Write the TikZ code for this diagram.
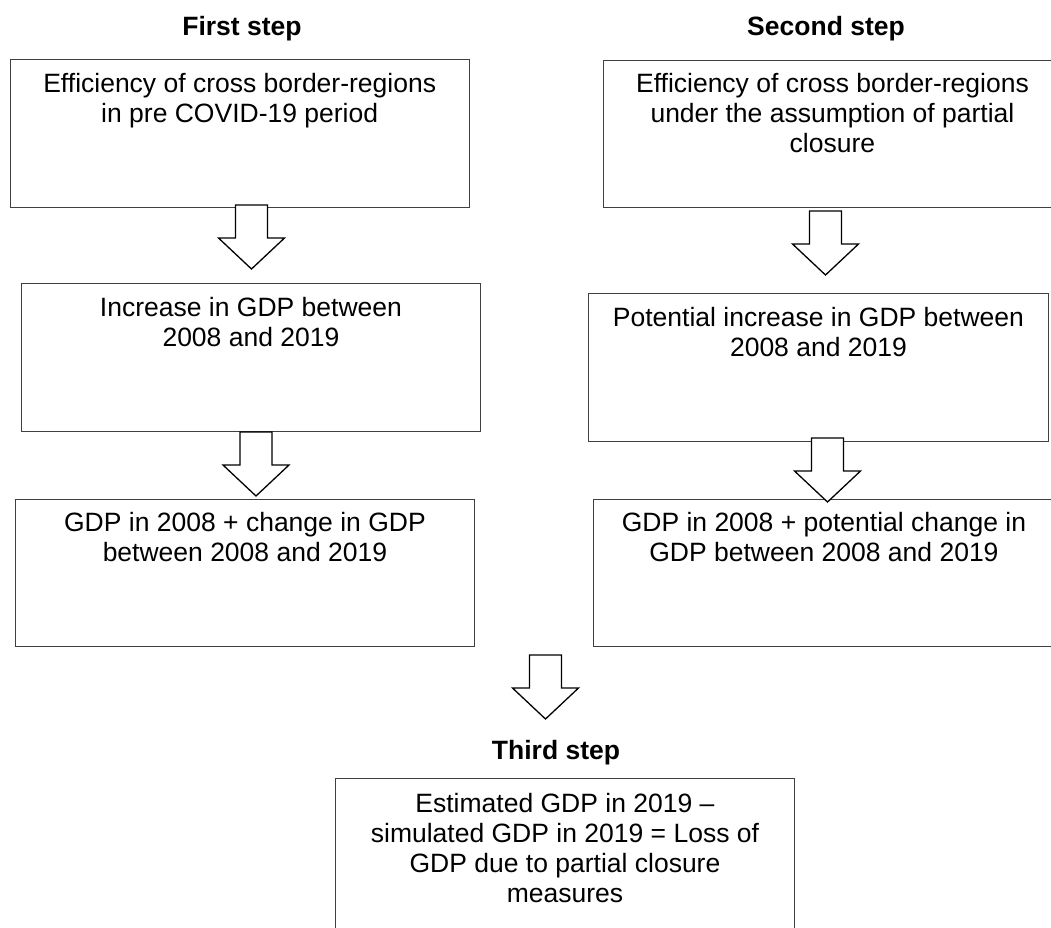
\documentclass[tikz,border=0pt]{standalone}
\usepackage{fontspec}
\setmainfont{Liberation Sans}
\usetikzlibrary{positioning}

\tikzset{
  boite/.style={draw=black!75, line width=0.9pt, inner sep=0pt, anchor=north west},
  texte/.style={align=center, inner sep=0pt, font=\fontsize{26.5}{30}\selectfont, execute at begin node=\strut},
  titre/.style={anchor=base, inner sep=0pt, font=\fontsize{26.5}{30}\selectfont\bfseries},
  fleche/.style={draw=black, fill=white, line width=1.3pt, line join=miter}
}

\begin{document}
\begin{tikzpicture}[x=1pt, y=-1pt]
        % Cadre
        \useasboundingbox (0,0) rectangle (1051,927);
        \clip (0,0) rectangle (1051,927);

        % Titres
        \node[titre] (T1) at (242,35) {First step};
        \node[titre] (T2) at (826,35) {Second step};
        \node[titre] (T3) at (556,759) {Third step};

        % Boites de gauche
        \node[boite, minimum width=459.5pt, minimum height=148pt] (L1) at (9.5,59) {};
        \node[boite, minimum width=459pt, minimum height=148pt] (L2) at (21,283) {};
        \node[boite, minimum width=459pt, minimum height=147pt] (L3) at (15,499) {};

        % Boites de droite
        \node[boite, minimum width=458pt, minimum height=147pt] (R1) at (603,60) {};
        \node[boite, minimum width=460pt, minimum height=148pt] (R2) at (588,293) {};
        \node[boite, minimum width=461pt, minimum height=147pt] (R3) at (593,499) {};

        % Boite du bas
        \node[boite, minimum width=459pt, minimum height=170pt] (B) at (335,778) {};

        % Fleches
        \foreach \x/\y in {251.5/205, 256/432, 825.5/211, 827.5/438, 545.5/655} {
            \draw[fleche] (\x-16,\y) -- (\x+16,\y) -- (\x+16,\y+33) -- (\x+33,\y+33)
                -- (\x,\y+64) -- (\x-33,\y+33) -- (\x-16,\y+33) -- cycle;
        }

        % Textes
        \node[texte, below=14pt of L1.north] (tL1) {Efficiency of cross border-regions\\in pre COVID-19 period};
        \node[texte, below=14pt of L2.north] (tL2) {Increase in GDP between\\2008 and 2019};
        \node[texte, below=13pt of L3.north] (tL3) {GDP in 2008 + change in GDP\\between 2008 and 2019};
        \node[texte, below=13pt of R1.north] (tR1) {Efficiency of cross border-regions\\under the assumption of partial\\closure};
        \node[texte, below=14pt of R2.north] (tR2) {Potential increase in GDP between\\2008 and 2019};
        \node[texte, below=13pt of R3.north] (tR3) {GDP in 2008 + potential change in\\GDP between 2008 and 2019};
        \node[texte, below=15pt of B.north] (tB) {Estimated GDP in 2019 –\\simulated GDP in 2019 = Loss of\\GDP due to partial closure\\measures};
\end{tikzpicture}
\end{document}
